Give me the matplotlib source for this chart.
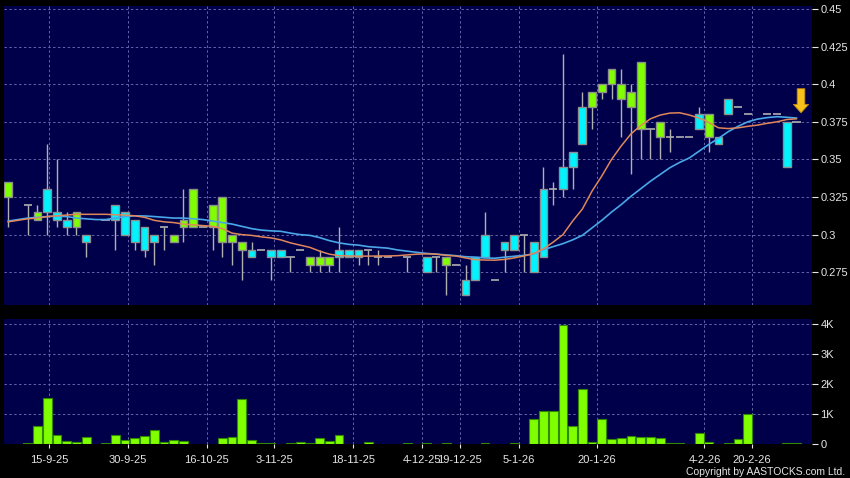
import numpy as np
import matplotlib
matplotlib.use("Agg")
import matplotlib.pyplot as plt

# daily OHLC (None = no mark that day)
opens = [0.335, None, 0.32, 0.315, 0.315, 0.31, 0.305, 0.315, 0.295, None,
         0.31, 0.31, 0.30, 0.295, 0.29, 0.295, 0.305, 0.30, 0.31, 0.33,
         0.305, 0.32, 0.325, 0.30, 0.295, 0.285, 0.29, 0.285, 0.285, 0.285,
         0.29, 0.285, 0.285, 0.285, 0.285, 0.285, 0.285, 0.29, 0.285, 0.285,
         None, 0.285, None, 0.275, 0.285, 0.285, 0.28, 0.26, 0.27, 0.285,
         0.27, 0.29, 0.29, 0.30, 0.275, 0.285, 0.33, 0.33, 0.345, 0.36,
         0.395, 0.40, 0.41, 0.40, 0.395, 0.415, 0.37, 0.375, 0.365, 0.365,
         0.365, 0.37, 0.38, 0.36, 0.38, 0.385, 0.38, None, 0.38, 0.38,
         0.345, 0.375]
highs = [0.335, None, 0.32, 0.32, 0.36, 0.35, 0.315, 0.315, 0.30, None,
         0.31, 0.32, 0.315, 0.31, 0.305, 0.30, 0.305, 0.30, 0.33, 0.33,
         0.305, 0.32, 0.325, 0.30, 0.295, 0.295, 0.29, 0.29, 0.29, 0.285,
         0.29, 0.285, 0.29, 0.285, 0.305, 0.29, 0.29, 0.29, 0.29, 0.285,
         None, 0.285, None, 0.285, 0.285, 0.285, 0.28, 0.28, 0.285, 0.315,
         0.27, 0.295, 0.30, 0.30, 0.295, 0.345, 0.335, 0.42, 0.355, 0.395,
         0.395, 0.40, 0.41, 0.41, 0.40, 0.415, 0.37, 0.375, 0.37, 0.365,
         0.365, 0.385, 0.38, 0.365, 0.39, 0.385, 0.38, None, 0.38, 0.38,
         0.375, 0.375]
lows = [0.305, None, 0.30, 0.31, 0.30, 0.305, 0.30, 0.30, 0.285, None,
        0.31, 0.29, 0.30, 0.29, 0.285, 0.28, 0.29, 0.295, 0.295, 0.305,
        0.305, 0.29, 0.285, 0.28, 0.27, 0.285, 0.29, 0.27, 0.285, 0.275,
        0.29, 0.275, 0.275, 0.275, 0.275, 0.285, 0.28, 0.28, 0.28, 0.285,
        None, 0.275, None, 0.275, 0.275, 0.26, 0.28, 0.26, 0.27, 0.285,
        0.27, 0.275, 0.29, 0.275, 0.275, 0.285, 0.32, 0.325, 0.33, 0.36,
        0.37, 0.39, 0.39, 0.365, 0.34, 0.35, 0.35, 0.35, 0.355, 0.365,
        0.365, 0.37, 0.355, 0.36, 0.38, 0.385, 0.38, None, 0.38, 0.38,
        0.345, 0.375]
closes = [0.325, None, 0.32, 0.31, 0.33, 0.315, 0.31, 0.305, 0.30, None,
          0.31, 0.32, 0.315, 0.31, 0.305, 0.30, 0.305, 0.295, 0.305, 0.305,
          0.305, 0.305, 0.295, 0.295, 0.29, 0.29, 0.29, 0.29, 0.29, 0.285,
          0.29, 0.28, 0.28, 0.28, 0.29, 0.29, 0.29, 0.29, 0.285, 0.285,
          None, 0.285, None, 0.285, 0.285, 0.28, 0.28, 0.27, 0.285, 0.30,
          0.27, 0.295, 0.30, 0.30, 0.295, 0.33, 0.33, 0.345, 0.355, 0.385,
          0.385, 0.395, 0.40, 0.39, 0.385, 0.37, 0.37, 0.365, 0.365, 0.365,
          0.365, 0.38, 0.365, 0.365, 0.39, 0.385, 0.38, None, 0.38, 0.38,
          0.375, 0.375]

# volume in thousands
volumes = [0, 0, 0.03, 0.6, 1.53, 0.27, 0.07, 0.045, 0.22, 0,
           0.03, 0.29, 0.11, 0.18, 0.25, 0.47, 0.04, 0.13, 0.08, 0,
           0, 0, 0.19, 0.22, 1.5, 0.11, 0.02, 0.02, 0, 0.02,
           0.06, 0.02, 0.18, 0.1, 0.28, 0, 0, 0.04, 0, 0,
           0, 0.02, 0, 0.01, 0, 0.03, 0, 0, 0, 0.03,
           0, 0, 0.03, 0, 0.83, 1.08, 1.08, 3.99, 0.58, 1.84,
           0.06, 0.82, 0.16, 0.18, 0.26, 0.22, 0.21, 0.17, 0.03, 0.01,
           0, 0.36, 0.05, 0, 0.01, 0.16, 0.98, 0, 0, 0,
           0.03, 0.03]

# moving averages
ma_short = [0.3085, 0.3095, 0.3105, 0.311, 0.312, 0.3125, 0.313, 0.3135, 0.3135, 0.3135,
            0.3135, 0.3132, 0.313, 0.3125, 0.3115, 0.3095, 0.3085, 0.308, 0.307, 0.3065,
            0.306, 0.3055, 0.304, 0.301, 0.300, 0.2995, 0.2985, 0.2978, 0.2965, 0.2945,
            0.293, 0.2915, 0.289, 0.287, 0.286, 0.2858, 0.2857, 0.2857, 0.2858, 0.2858,
            0.286, 0.2865, 0.287, 0.2872, 0.287, 0.2862, 0.2858, 0.2845, 0.2833, 0.2831,
            0.283, 0.2835, 0.2845, 0.2858, 0.2875, 0.2905, 0.295, 0.300, 0.309, 0.317,
            0.329, 0.339, 0.350, 0.359, 0.367, 0.3725, 0.377, 0.3795, 0.3808, 0.381,
            0.3795, 0.3775, 0.3745, 0.371, 0.3705, 0.371, 0.372, 0.3728, 0.374, 0.375,
            0.3765, 0.377]
ma_long = [0.309, 0.310, 0.311, 0.3115, 0.312, 0.3122, 0.312, 0.311, 0.3105, 0.310,
           0.310, 0.311, 0.312, 0.3125, 0.3124, 0.312, 0.3115, 0.311, 0.311, 0.3105,
           0.310, 0.309, 0.308, 0.307, 0.3055, 0.304, 0.303, 0.3025, 0.3022, 0.301,
           0.300, 0.2995, 0.298, 0.296, 0.2945, 0.2935, 0.293, 0.292, 0.2915, 0.291,
           0.2898, 0.289, 0.2882, 0.2875, 0.287, 0.2865, 0.286, 0.2853, 0.285, 0.2845,
           0.2843, 0.285, 0.2856, 0.2862, 0.287, 0.290, 0.292, 0.294, 0.2965, 0.2995,
           0.3045, 0.3095, 0.315, 0.320, 0.3255, 0.3305, 0.3355, 0.340, 0.3445, 0.348,
           0.351, 0.3555, 0.360, 0.364, 0.3685, 0.372, 0.375, 0.3768, 0.3778, 0.3784,
           0.378, 0.3775]

date_labels = ["15-9-25", "30-9-25", "16-10-25", "3-11-25", "18-11-25", "4-12-25",
               "19-12-25", "5-1-26", "20-1-26", "4-2-26", "20-2-26"]
date_pos = [4.21, 12.27, 20.39, 27.34, 35.46, 42.5, 46.4, 52.5, 60.5, 71.55, 76.4]

price_ticks = [0.275, 0.3, 0.325, 0.35, 0.375, 0.4, 0.425, 0.45]
vol_ticks = [0, 1, 2, 3, 4]

BG = "#00004a"
GRID = "#6464a8"
TXT = "#e6e6e6"
UP = "#00f4ff"
DOWN = "#80ff00"
EDGE = "#8e8e8e"
WICK = "#b0b0b0"

plt.rcParams["font.family"] = ["Liberation Sans", "DejaVu Sans"]

fig = plt.figure(figsize=(8.5, 4.78), dpi=100, facecolor="black")
ax = fig.add_axes([4 / 850, 1 - 305 / 478, 808 / 850, 299 / 478])
axv = fig.add_axes([4 / 850, 1 - 443.5 / 478, 808 / 850, 125 / 478])

n = len(closes)
xs = np.arange(n)

for a in (ax, axv):
    a.set_facecolor(BG)
    for s in a.spines.values():
        s.set_visible(False)
    a.set_xlim(-0.44, 82.6)
    a.set_xticks(date_pos)
    a.grid(True, color=GRID, linestyle=(0, (2.5, 2.5)), linewidth=0.7)
    a.set_axisbelow(True)
    a.yaxis.tick_right()
    a.tick_params(axis="y", colors=TXT, labelsize=8, length=4, width=0.8, pad=2)

# candles
for i in range(n):
    o, h, l, c = opens[i], highs[i], lows[i], closes[i]
    if o is None:
        continue
    ax.vlines(i, l, h, color=WICK, linewidth=1, zorder=2)
    if o == c:
        ax.hlines(o, i - 0.42, i + 0.42, color=WICK, linewidth=1.2, zorder=3)
    else:
        col = UP if c > o else DOWN
        ax.bar(i, abs(c - o), bottom=min(o, c), width=0.8, color=col,
               edgecolor=EDGE, linewidth=1, zorder=3)

ax.plot(xs, ma_long, color="#4aa8e8", linewidth=1.2, zorder=4)
ax.plot(xs, ma_short, color="#e0875a", linewidth=1.1, zorder=5)

ax.set_ylim(0.2532, 0.452)
ax.set_yticks(price_ticks)
ax.set_yticklabels(["%g" % t for t in price_ticks])
ax.tick_params(axis="x", length=0, labelbottom=False)

# arrow marking last price
ax.annotate("", xy=(81.47, 0.381), xytext=(81.47, 0.397),
            arrowprops=dict(arrowstyle="simple,head_length=0.55,head_width=1.0,tail_width=0.5",
                            mutation_scale=11, facecolor="#f7c21c", edgecolor="#c08a10",
                            linewidth=0.6, shrinkA=0, shrinkB=0), zorder=6)

# volume (skip days with no trades)
vx = [i for i in range(n) if volumes[i] > 0]
vv = [volumes[i] for i in vx]
axv.bar(vx, vv, width=0.9, color=DOWN, edgecolor="#2f8a00", linewidth=0.8, zorder=3)
axv.set_ylim(0, 4.2)
axv.set_yticks(vol_ticks)
axv.set_yticklabels(["0" if v == 0 else "%dK" % v for v in vol_ticks])
axv.set_xticklabels(date_labels)
axv.tick_params(axis="x", colors=TXT, labelsize=8, length=3, width=0.8, pad=5)

fig.text(845 / 850, 1 - 472 / 478, "Copyright by AASTOCKS.com Ltd.", color=TXT,
         fontsize=7.5, ha="right", va="center")

fig.savefig("out.png", dpi=100, facecolor="black")
